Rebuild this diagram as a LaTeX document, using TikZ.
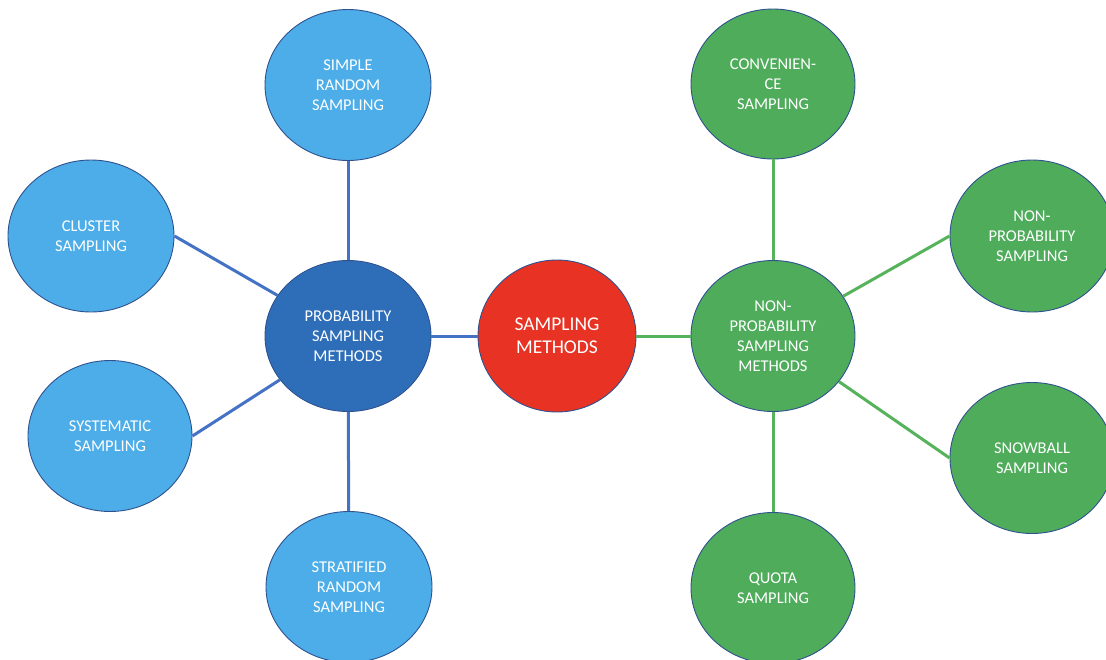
\documentclass[tikz,border=0pt]{standalone}
\usepackage{fontspec}
\setmainfont{Carlito}
\usetikzlibrary{shapes.geometric}
\definecolor{lblue}{HTML}{4DADE8}
\definecolor{dblue}{HTML}{2E6EB9}
\definecolor{redc}{HTML}{E83223}
\definecolor{greenc}{HTML}{4EAC5B}
\definecolor{bline}{HTML}{4472C4}
\definecolor{gline}{HTML}{56B35B}
\definecolor{edgec}{HTML}{2F528F}
\tikzset{
  bubble/.style={ellipse, draw=edgec, line width=0.9pt, inner sep=0pt,
    minimum width=164pt, minimum height=151pt, text=white, align=center,
    font=\fontsize{16.5}{20}\selectfont},
  lb/.style={bubble, fill=lblue},
  db/.style={bubble, fill=dblue},
  gb/.style={bubble, fill=greenc},
  rb/.style={bubble, fill=redc, minimum width=158pt, minimum height=152pt,
    font=\fontsize{19.5}{23}\selectfont},
  bconn/.style={draw=bline, line width=3pt},
  gconn/.style={draw=gline, line width=3pt}
}
\begin{document}
\begin{tikzpicture}[x=1pt,y=-1pt]
\useasboundingbox (0,0) rectangle (1106,659);
\clip (0,0) rectangle (1106,659);
\node[lb, minimum width=166pt] (sr) at (348,85) {SIMPLE\\RANDOM\\SAMPLING};
\node[lb, minimum width=166pt, minimum height=152pt] (cl) at (91,236) {CLUSTER\\SAMPLING};
\node[db, minimum width=166pt] (pm) at (348,336) {PROBABILITY\\SAMPLING\\METHODS};
\node[lb] (sy) at (110,436) {SYSTEMATIC\\SAMPLING};
\node[lb, minimum width=166pt] (st) at (349,587) {STRATIFIED\\RANDOM\\SAMPLING};
\node[rb] (sm) at (557,336) {SAMPLING\\METHODS};
\node[gb, minimum height=150pt] (cv) at (773,84) {CONVENIEN-\\CE\\SAMPLING};
\node[gb] (nm) at (773,336) {NON-\\PROBABILITY\\SAMPLING\\METHODS};
\node[gb, minimum height=152pt] (ns) at (1032,236) {NON-\\PROBABILITY\\SAMPLING};
\node[gb] (sb) at (1032,458) {SNOWBALL\\SAMPLING};
\node[gb] (qu) at (773,588) {QUOTA\\SAMPLING};
\draw[bconn] (pm) -- (sr);
\draw[bconn] (pm) -- (st);
\draw[bconn] (cl.east) -- (pm);
\draw[bconn] (sy.east) -- (pm);
\draw[bconn] (pm) -- (sm);
\draw[gconn] (sm) -- (nm);
\draw[gconn] (nm) -- (cv);
\draw[gconn] (nm) -- (qu);
\draw[gconn] (nm) -- (ns.west);
\draw[gconn] (nm) -- (sb.west);
\end{tikzpicture}
\end{document}
